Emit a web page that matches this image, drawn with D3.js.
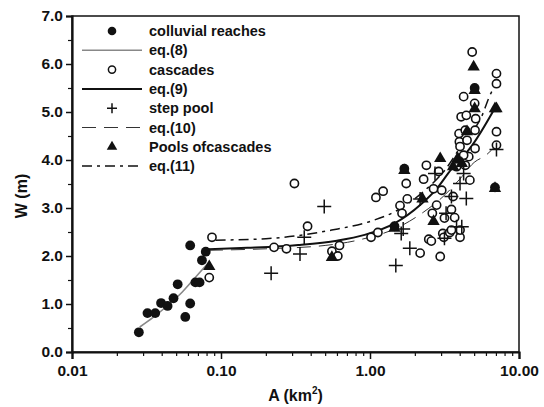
<!DOCTYPE html>
<html>
<head>
<meta charset="utf-8">
<script src="https://cdn.jsdelivr.net/npm/d3@7"></script>
<style>
  body { margin: 0; background: #fff; }
  svg text { font-family: "Liberation Sans", Arial, sans-serif; font-weight: bold; fill: #111; }
</style>
</head>
<body>
<div id="chart"></div>
<script>
// W vs A scatter with fitted curves (log x axis)

// --- data: [A (km2), W (m)] ---
const colluvial = [
  [0.0281, 0.41], [0.0321, 0.81], [0.0362, 0.81], [0.0396, 1.02], [0.0438, 0.96],
  [0.048, 1.12], [0.0512, 1.41], [0.0576, 0.73], [0.0621, 1.01], [0.0621, 2.22],
  [0.0673, 1.45], [0.0718, 1.45], [0.0745, 1.91], [0.079, 2.09],
  [1.46, 2.62], [1.70, 3.82], [5.04, 5.5], [6.9, 3.43]
];
const cascades = [
  [0.087, 2.39], [0.0834, 1.55], [0.227, 2.18], [0.275, 2.15], [0.311, 3.51],
  [0.381, 2.62], [0.555, 2.10], [0.624, 2.22], [0.608, 2.00], [1.016, 2.39],
  [1.13, 2.49], [1.096, 3.22], [1.225, 3.35], [1.59, 3.05], [1.64, 2.89],
  [1.75, 3.51], [1.78, 3.19], [2.17, 2.06], [2.39, 3.89], [2.29, 3.60],
  [2.48, 2.35], [2.58, 2.31], [2.67, 3.40], [2.80, 3.06], [2.89, 3.76],
  [2.96, 1.99], [3.03, 3.37], [3.08, 2.47], [3.16, 2.79], [3.13, 2.39],
  [3.43, 2.49], [3.52, 2.97], [3.61, 3.24], [3.81, 3.86], [4.02, 2.39],
  [3.96, 4.55], [3.98, 4.38], [4.09, 4.90], [4.25, 5.32], [4.43, 4.93],
  [4.48, 4.41], [4.60, 4.07], [4.36, 3.89], [4.68, 3.58], [4.85, 6.25],
  [5.04, 5.18], [5.12, 4.86], [5.07, 4.62], [5.07, 4.24], [7.06, 5.80],
  [7.06, 5.59], [7.06, 4.59], [7.06, 4.31], [4.36, 4.62], [4.02, 4.28],
  [4.25, 4.10], [3.70, 2.80], [2.62, 2.89], [3.52, 2.54], [4.02, 2.54]
];
const stepPool = [
  [0.217, 1.64], [0.339, 2.04], [0.362, 2.39], [0.493, 3.03], [1.49, 1.80],
  [1.62, 2.47], [1.67, 2.56], [1.85, 2.16], [2.17, 3.19], [2.73, 3.72],
  [3.16, 2.37], [3.52, 3.24], [3.81, 2.61], [4.13, 2.61], [4.43, 3.20],
  [4.02, 3.51], [4.25, 3.72], [7.06, 4.22], [3.24, 2.89]
];
const poolsCascades = [
  [0.0834, 1.78], [0.555, 1.97], [1.46, 2.58], [1.70, 3.78], [2.25, 3.19],
  [2.67, 2.72], [2.96, 4.03], [3.61, 3.86], [4.13, 3.93], [4.96, 5.94],
  [5.04, 5.07], [5.04, 5.45], [6.9, 5.07], [7.06, 5.07], [6.9, 3.41],
  [4.48, 4.59], [3.88, 4.03]
];

// fitted curves
const eq8 = [[0.0285, 0.52], [0.035, 0.72], [0.045, 1.0], [0.055, 1.25], [0.065, 1.5], [0.075, 1.72], [0.082, 1.85]];
const eq9 = [[0.083, 2.14], [0.15, 2.17], [0.33, 2.23], [0.6, 2.32], [0.92, 2.44], [1.46, 2.68], [2.2, 3.08],
             [2.8, 3.4], [3.5, 3.8], [4.3, 4.1], [4.86, 4.31], [7.0, 5.12]];
const eq10 = [[0.083, 2.12], [0.2, 2.15], [0.5, 2.22], [0.83, 2.33], [1.6, 2.62], [2.3, 2.92], [3.0, 3.2],
              [4.0, 3.6], [5.0, 3.95], [6.0, 4.1], [7.0, 4.3]];
const eq11 = [[0.092, 2.33], [0.2, 2.36], [0.553, 2.54], [1.0, 2.72], [1.46, 2.92], [2.3, 3.35], [3.2, 3.8],
              [4.2, 4.35], [5.6, 4.9], [6.5, 5.4], [7.0, 5.55]];

const xTicks = [0.01, 0.1, 1, 10];
const xTickLabels = ['0.01', '0.10', '1.00', '10.00'];
const yTicks = [0, 1, 2, 3, 4, 5, 6, 7];
const legendLabels = ['colluvial reaches', 'eq.(8)', 'cascades', 'eq.(9)', 'step pool', 'eq.(10)', 'Pools ofcascades', 'eq.(11)'];

// --- layout ---
const W = 544, H = 407;
const plot = { left: 72, right: 519, top: 16, bottom: 352 };

const svg = d3.select('#chart').append('svg')
  .attr('width', W).attr('height', H);

const x = d3.scaleLog().domain([0.01, 10]).range([plot.left, plot.right]);
const y = d3.scaleLinear().domain([0, 7]).range([plot.bottom, plot.top]);

// frame
svg.append('rect')
  .attr('x', plot.left).attr('y', plot.top)
  .attr('width', plot.right - plot.left).attr('height', plot.bottom - plot.top)
  .attr('fill', 'none').attr('stroke', '#111').attr('stroke-width', 1.5);

// minor ticks
const xMinor = [];
[0.01, 0.1, 1].forEach(d => { for (let k = 2; k <= 9; k++) xMinor.push(d * k); });
svg.append('g')
  .attr('transform', `translate(0,${plot.bottom})`)
  .call(d3.axisBottom(x).tickValues(xMinor).tickSize(4).tickFormat(''))
  .call(g => g.select('.domain').remove())
  .call(g => g.selectAll('line').attr('stroke', '#111').attr('stroke-width', 1.2));

svg.append('g')
  .attr('transform', `translate(${plot.left},0)`)
  .call(d3.axisLeft(y).tickValues(d3.range(0.5, 7, 1)).tickSize(4).tickFormat(''))
  .call(g => g.select('.domain').remove())
  .call(g => g.selectAll('line').attr('stroke', '#111').attr('stroke-width', 1.2));

// major axes
const xAxis = svg.append('g')
  .attr('transform', `translate(0,${plot.bottom})`)
  .call(d3.axisBottom(x).tickValues(xTicks).tickSize(7).tickPadding(6)
    .tickFormat((d, i) => xTickLabels[i]));
const yAxis = svg.append('g')
  .attr('transform', `translate(${plot.left},0)`)
  .call(d3.axisLeft(y).tickValues(yTicks).tickSize(6).tickPadding(3)
    .tickFormat(d3.format('.1f')));

[xAxis, yAxis].forEach(g => {
  g.select('.domain').attr('stroke', '#111').attr('stroke-width', 2.2);
  g.selectAll('line').attr('stroke', '#111').attr('stroke-width', 1.5);
  g.selectAll('text').style('font-size', '15.5px').attr('fill', '#111');
});

// axis titles
svg.append('text')
  .attr('x', (plot.left + plot.right) / 2).attr('y', 401)
  .attr('text-anchor', 'middle').style('font-size', '16px')
  .html('A (km<tspan dy="-7" font-size="10px">2</tspan><tspan dy="7">)</tspan>');

svg.append('text')
  .attr('transform', 'rotate(-90)')
  .attr('x', -196).attr('y', 27)
  .attr('text-anchor', 'middle').style('font-size', '16px')
  .text('W (m)');

// curves
const line = d3.line().x(d => x(d[0])).y(d => y(d[1])).curve(d3.curveMonotoneX);
const curveStyles = [
  { data: eq8, stroke: '#888', width: 1.6, dash: null },
  { data: eq9, stroke: '#111', width: 2, dash: null },
  { data: eq10, stroke: '#333', width: 1, dash: '14,8' },
  { data: eq11, stroke: '#111', width: 1.5, dash: '10,5,3,5' }
];
curveStyles.forEach(c => {
  svg.append('path')
    .datum(c.data)
    .attr('d', line)
    .attr('fill', 'none')
    .attr('stroke', c.stroke)
    .attr('stroke-width', c.width)
    .attr('stroke-dasharray', c.dash);
});

// markers
const tri = d3.symbol().type(d3.symbolTriangle).size(66);

svg.append('g').selectAll('circle.open')
  .data(cascades).enter().append('circle')
  .attr('cx', d => x(d[0])).attr('cy', d => y(d[1])).attr('r', 4.1)
  .attr('fill', '#fff').attr('stroke', '#111').attr('stroke-width', 1.6);

svg.append('g').selectAll('path.plus')
  .data(stepPool).enter().append('path')
  .attr('d', d => `M${x(d[0]) - 7},${y(d[1])}h14M${x(d[0])},${y(d[1]) - 7}v14`)
  .attr('stroke', '#111').attr('stroke-width', 1.5);

svg.append('g').selectAll('circle.fill')
  .data(colluvial).enter().append('circle')
  .attr('cx', d => x(d[0])).attr('cy', d => y(d[1])).attr('r', 4.9)
  .attr('fill', '#111');

svg.append('g').selectAll('path.tri')
  .data(poolsCascades).enter().append('path')
  .attr('d', tri)
  .attr('transform', d => `translate(${x(d[0])},${y(d[1])})`)
  .attr('fill', '#111');

// legend
const lg = svg.append('g');
const lgY0 = 31, lgStep = 19.3, symX = 112, lineX0 = 82, lineX1 = 142, textX = 149;
legendLabels.forEach((label, i) => {
  const yy = lgY0 + i * lgStep;
  lg.append('text')
    .attr('x', textX).attr('y', yy).attr('dy', '0.35em')
    .style('font-size', '14.5px').text(label);
});
// legend symbols
lg.append('circle').attr('cx', symX).attr('cy', lgY0).attr('r', 4.3).attr('fill', '#111');
lg.append('circle').attr('cx', symX).attr('cy', lgY0 + 2 * lgStep).attr('r', 3.6)
  .attr('fill', '#fff').attr('stroke', '#111').attr('stroke-width', 1.5);
lg.append('path')
  .attr('d', `M${symX - 5},${lgY0 + 4 * lgStep}h10M${symX},${lgY0 + 4 * lgStep - 5}v10`)
  .attr('stroke', '#111').attr('stroke-width', 1.5);
lg.append('path').attr('d', d3.symbol().type(d3.symbolTriangle).size(48))
  .attr('transform', `translate(${symX},${lgY0 + 6 * lgStep})`).attr('fill', '#111');
curveStyles.forEach((c, i) => {
  const yy = lgY0 + (2 * i + 1) * lgStep;
  lg.append('line')
    .attr('x1', lineX0).attr('x2', lineX1).attr('y1', yy).attr('y2', yy)
    .attr('stroke', c.stroke).attr('stroke-width', c.width)
    .attr('stroke-dasharray', c.dash);
});
</script>
</body>
</html>
